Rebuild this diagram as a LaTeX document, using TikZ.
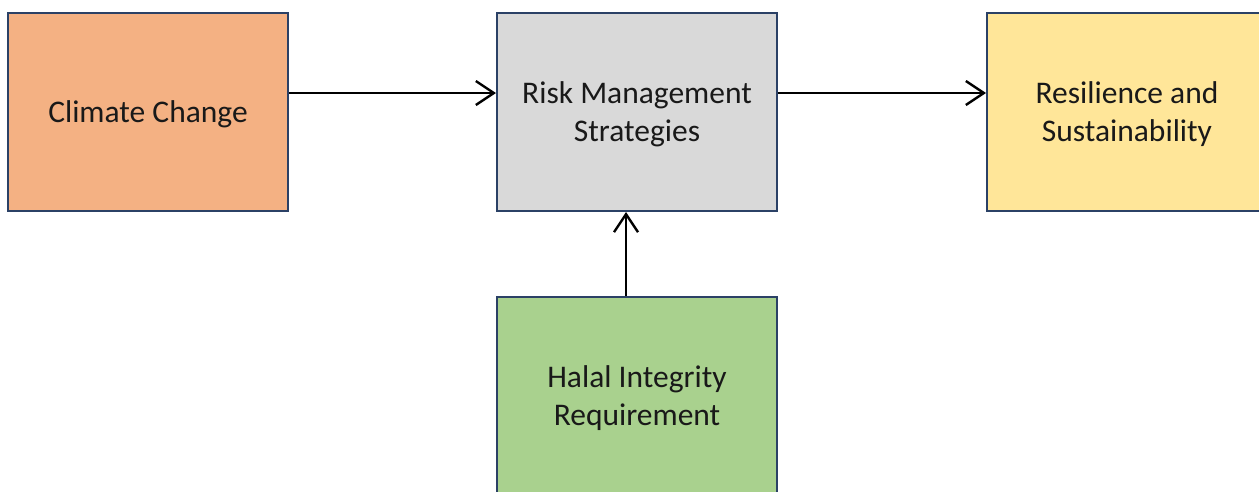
\documentclass[tikz,border=0pt]{standalone}
\usepackage{fontspec}
\setmainfont{Carlito}
\usetikzlibrary{arrows.meta}
\definecolor{edgeblue}{HTML}{2B4166}
\definecolor{fillorange}{HTML}{F4B183}
\definecolor{fillgray}{HTML}{D9D9D9}
\definecolor{fillyellow}{HTML}{FFE699}
\definecolor{fillgreen}{HTML}{A9D18E}
\tikzset{
  block/.style={draw=edgeblue, line width=2pt, minimum width=280pt, minimum height=198pt,
    inner sep=0pt},
  caption/.style={align=center, text=black!90, inner sep=0pt, yshift=-2.5pt,
    font=\fontsize{31.5}{38}\selectfont},
  flow/.style={line width=2.4pt, black, -{Straight Barb[length=18pt,width=24pt,line width=2.4pt]}}
}
\begin{document}
\begin{tikzpicture}[x=1pt,y=-1pt]
  \useasboundingbox (0,0) rectangle (1259,491);
  \clip (0,0) rectangle (1259,491);
  \node[block, fill=fillorange, label={[caption]center:Climate Change}] (cc) at (148,112) {};
  \node[block, fill=fillgray, label={[caption]center:Risk Management\\Strategies}] (rm) at (637,112) {};
  \node[block, fill=fillyellow, label={[caption]center:Resilience and\\Sustainability}] (rs) at (1127,112) {};
  \node[block, fill=fillgreen, label={[caption]center:Halal Integrity\\Requirement}] (hi) at (637,396) {};
  \draw[flow] ([yshift=19pt]cc.east) -- ([yshift=19pt]rm.west);
  \draw[flow] ([yshift=19pt]rm.east) -- ([yshift=19pt]rs.west);
  \draw[flow] ([xshift=-11pt]hi.north) -- ([xshift=-11pt]rm.south);
\end{tikzpicture}
\end{document}
